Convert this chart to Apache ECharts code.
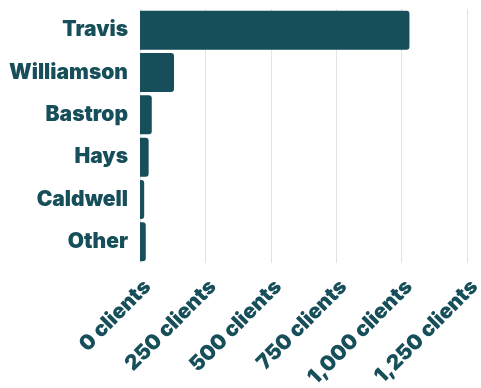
<!DOCTYPE html>
<html><head><meta charset="utf-8">
<script src="https://cdn.jsdelivr.net/npm/echarts@6/dist/echarts.min.js"></script>
<style>html,body{margin:0;padding:0;background:#fff}#c{width:481px;height:388px}</style>
</head><body><div id="c"></div>
<script>
const categories = ['Travis','Williamson','Bastrop','Hays','Caldwell','Other'];
const clients = [1030, 130, 45, 33, 16, 22];
const tickValues = [0, 250, 500, 750, 1000, 1250];
const color = '#164e59';
const font = 'Inter';
const chart = echarts.init(document.getElementById('c'));
chart.setOption({
  animation: false,
  grid: {left: 140, right: 14, top: 9, bottom: 125, containLabel: false, outerBoundsMode: 'none'},
  xAxis: {
    type: 'value', min: 0, max: 1250, interval: 250,
    axisLine: {show: false}, axisTick: {show: false},
    splitLine: {show: true, lineStyle: {color: '#dfe5e6', width: 1}},
    axisLabel: {
      rotate: 45, margin: 13, align: 'right', verticalAlign: 'top',
      color: color, fontFamily: font, fontWeight: 900, fontSize: 21,
      formatter: v => v.toLocaleString('en-US') + ' clients'
    }
  },
  yAxis: {
    type: 'category', data: categories, inverse: true,
    axisLine: {show: false}, axisTick: {show: false},
    axisLabel: {color: color, fontFamily: font, fontWeight: 900, fontSize: 21, margin: 12}
  },
  series: [{
    type: 'bar', data: clients, barCategoryGap: '8%',
    itemStyle: {color: color, borderRadius: [0, 3, 3, 0]}
  }]
});
</script></body></html>
